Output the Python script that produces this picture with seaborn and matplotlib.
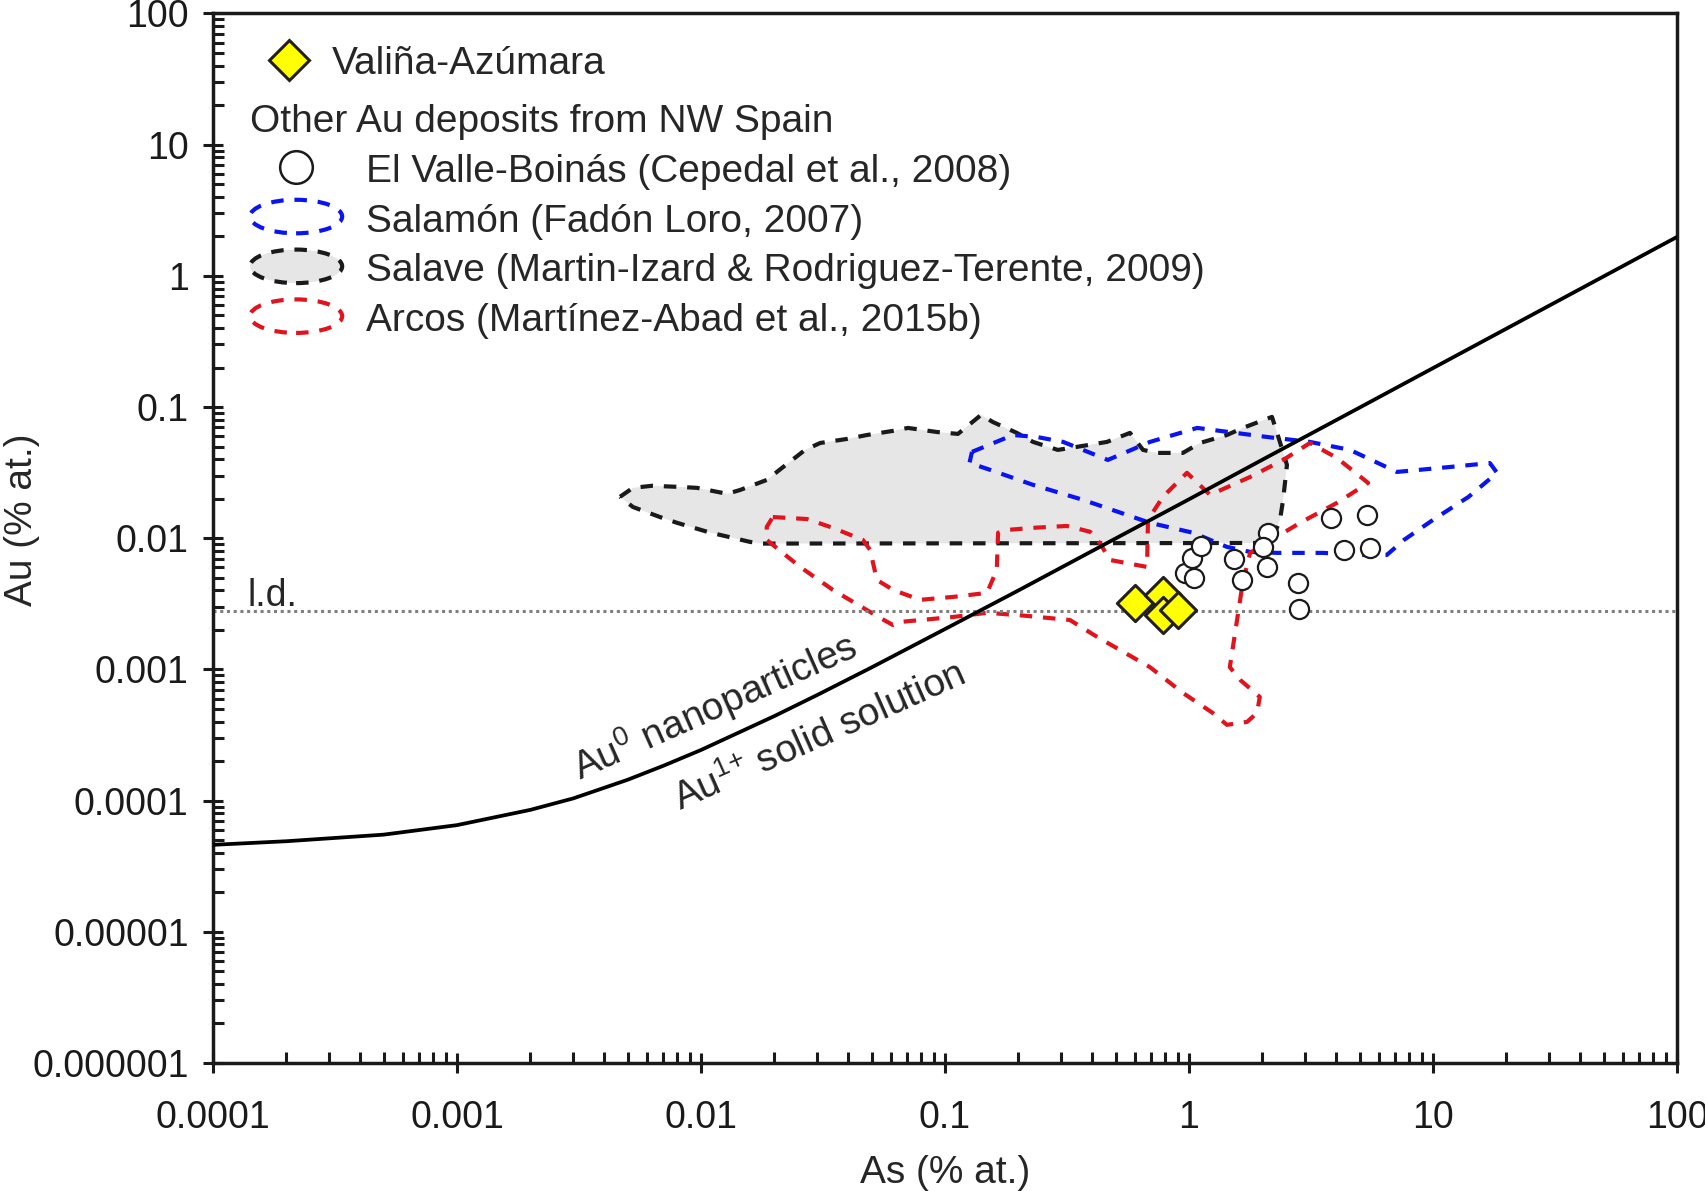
import matplotlib
matplotlib.use("Agg")
import matplotlib.pyplot as plt
import matplotlib.patches as mpatches
from matplotlib.lines import Line2D
from matplotlib.legend_handler import HandlerPatch
from matplotlib.ticker import FixedLocator, LogLocator, NullFormatter
import seaborn as sns

# --- data ---------------------------------------------------------------
# solubility limit of Au in arsenian pyrite
curve_as = [0.0001, 0.0002, 0.0005, 0.001, 0.002, 0.003, 0.005, 0.007, 0.01,
            0.02, 0.03, 0.05, 0.1, 0.2, 0.5, 1, 2, 5, 10, 20, 50, 100]
curve_au = [4.6e-5, 4.9e-5, 5.5e-5, 6.5e-5, 8.5e-5, 1.04e-4, 1.44e-4, 1.84e-4,
            2.43e-4, 4.41e-4, 6.39e-4, 1.035e-3, 2.03e-3, 4.0e-3, 9.95e-3,
            0.0198, 0.0397, 0.099, 0.198, 0.396, 0.99, 1.98]

detection_limit = 0.0028

valina_as = [0.60, 0.78, 0.78, 0.90]
valina_au = [0.00321, 0.00370, 0.00260, 0.00284]

boinas_as = [0.964, 1.03, 1.12, 1.05, 1.53, 1.65, 2.11, 2.01, 2.09, 2.80, 2.82,
             3.82, 4.32, 5.37, 5.52]
boinas_au = [0.00544, 0.00708, 0.00873, 0.00499, 0.00695, 0.00481, 0.0110,
             0.00859, 0.00604, 0.00456, 0.00289, 0.0143, 0.00815, 0.0151, 0.00844]

salave_as = [0.00466, 0.00526, 0.0063, 0.0082, 0.00964, 0.0128, 0.01445, 0.0186,
             0.0215, 0.0267, 0.0308, 0.0396, 0.0479, 0.0612, 0.0705, 0.0927,
             0.113, 0.1406, 0.157, 0.197, 0.2296, 0.290, 0.3475, 0.461, 0.573,
             0.648, 0.740, 0.944, 1.109, 1.43, 1.663, 2.188, 2.296, 2.52, 2.43,
             2.36, 2.25, 2.15, 0.01795, 0.0159, 0.01197, 0.0106, 0.00798,
             0.00679, 0.00526]
salave_au = [0.0207, 0.0242, 0.0251, 0.0246, 0.0242, 0.0218, 0.0233, 0.0278,
             0.0344, 0.0471, 0.0532, 0.0571, 0.0612, 0.0658, 0.0693, 0.0645,
             0.0624, 0.0871, 0.0769, 0.0635, 0.0542, 0.0471, 0.0497, 0.0542,
             0.0635, 0.0471, 0.0447, 0.0447, 0.0532, 0.0612, 0.0693, 0.0841,
             0.0635, 0.0362, 0.0196, 0.0138, 0.0110, 0.0092, 0.0091, 0.00937,
             0.0106, 0.0112, 0.0131, 0.0145, 0.0173]

salamon_as = [0.129, 0.190, 0.238, 0.305, 0.465, 0.692, 1.08, 2.09, 3.13, 4.57,
              7.11, 11.7, 17.1, 18.3, 14.0, 10.0, 7.6, 6.47, 5.17, 3.54, 2.30,
              1.78, 1.43, 1.04, 0.692, 0.368, 0.2296, 0.153, 0.126]
salamon_au = [0.0455, 0.0612, 0.0591, 0.0542, 0.0395, 0.0542, 0.0693, 0.0591,
              0.0542, 0.0471, 0.0320, 0.0349, 0.0374, 0.0315, 0.0207, 0.0138,
              0.0097, 0.00746, 0.00746, 0.00773, 0.00773, 0.00787, 0.00859,
              0.0110, 0.0131, 0.0196, 0.0255, 0.0332, 0.0375]

arcos_as = [0.0197, 0.0272, 0.0347, 0.0461, 0.0493, 0.0526, 0.0612, 0.079, 0.108,
            0.1486, 0.163, 0.165, 0.1795, 0.2296, 0.316, 0.393, 0.431, 0.474,
            0.673, 0.679, 0.782, 0.981, 1.22, 1.78, 2.43, 3.13, 4.04, 5.42, 4.04,
            2.85, 1.78, 1.66, 1.47, 1.62, 1.95, 1.90, 1.73, 1.43, 1.25, 0.944,
            0.692, 0.420, 0.325, 0.197, 0.1486, 0.108, 0.0655, 0.0612, 0.0542,
            0.0347, 0.0255, 0.0186, 0.0186]
arcos_au = [0.0145, 0.0140, 0.0120, 0.0097, 0.00815, 0.00481, 0.00404, 0.00339,
            0.00357, 0.00383, 0.00573, 0.0110, 0.01156, 0.0120, 0.0124, 0.0112,
            0.0092, 0.00683, 0.00604, 0.0138, 0.0207, 0.0315, 0.0214, 0.0293,
            0.0395, 0.0532, 0.0409, 0.0264, 0.0186, 0.0131, 0.00773, 0.00456,
            0.00104, 0.000832, 0.000617, 0.000466, 0.000398, 0.000378, 0.000466,
            0.000662, 0.00104, 0.00177, 0.00238, 0.00260, 0.00270, 0.00251,
            0.00230, 0.00218, 0.00247, 0.00404, 0.00604, 0.0097, 0.0122]

x_ticks = [0.0001, 0.001, 0.01, 0.1, 1, 10, 100]
x_labels = ["0.0001", "0.001", "0.01", "0.1", "1", "10", "100"]
y_ticks = [1e-6, 1e-5, 1e-4, 1e-3, 1e-2, 1e-1, 1, 10, 100]
y_labels = ["0.000001", "0.00001", "0.0001", "0.001", "0.01", "0.1", "1", "10", "100"]

legend_labels = ["El Valle-Boinás (Cepedal et al., 2008)",
                 "Salamón (Fadón Loro, 2007)",
                 "Salave (Martin-Izard & Rodriguez-Terente, 2009)",
                 "Arcos (Martínez-Abad et al., 2015b)"]

# --- style ----------------------------------------------------------------
sns.set_theme(style="ticks")
plt.rcParams['font.family'] = ['Liberation Sans', 'DejaVu Sans']
plt.rcParams['mathtext.fontset'] = 'custom'
plt.rcParams['mathtext.rm'] = 'Liberation Sans'
plt.rcParams['mathtext.it'] = 'Liberation Sans'

BLUE = '#0a14f0'
RED = '#e1141e'
BLACK = '#1a1a1a'
GREY_FILL = '#e6e6e6'
DASH = (0, (3, 2.6))
LW = 3.0

fig = plt.figure(figsize=(17.05, 11.91), dpi=100)
ax = fig.add_subplot(111)
fig.subplots_adjust(left=0.1249, right=0.9836, top=0.9887, bottom=0.1075)
ax.set_xscale('log')
ax.set_yscale('log')

# fields of other deposits
ax.fill(salave_as, salave_au, color=GREY_FILL, lw=0, zorder=1)
ax.plot(salave_as + salave_as[:1], salave_au + salave_au[:1], color=BLACK,
        lw=LW, ls=DASH, zorder=2)
ax.plot(salamon_as + salamon_as[:1], salamon_au + salamon_au[:1], color=BLUE,
        lw=LW, ls=DASH, zorder=2)
ax.plot(arcos_as + arcos_as[:1], arcos_au + arcos_au[:1], color=RED,
        lw=LW, ls=DASH, zorder=2)

# detection limit
ax.axhline(detection_limit, color='#7f7f7f', lw=2.2, ls=(0, (1, 1.2)), zorder=2)
ax.text(1.39e-4, 0.00305, 'l.d.', fontsize=27, ha='left', va='baseline')

# solubility limit curve
sns.lineplot(x=curve_as, y=curve_au, color='black', lw=2.7, ax=ax,
             estimator=None, zorder=3)
ax.text(0.0114, 5.18e-4, r'Au$^{0}$ nanoparticles', fontsize=28, rotation=24,
        rotation_mode='anchor', ha='center', va='center')
ax.text(0.0305, 3.06e-4, r'Au$^{1{+}}$ solid solution', fontsize=28, rotation=24,
        rotation_mode='anchor', ha='center', va='center')

# points
sns.scatterplot(x=boinas_as, y=boinas_au, marker='o', s=190, color='white',
                edgecolor=BLACK, linewidth=1.6, ax=ax, zorder=4, legend=False)
sns.scatterplot(x=valina_as, y=valina_au, marker='D', s=340, color='#ffff00',
                edgecolor='#231f20', linewidth=2.2, ax=ax, zorder=5, legend=False)

# axes
ax.set_xlim(1e-4, 100)
ax.set_ylim(1e-6, 100)
ax.xaxis.set_major_locator(FixedLocator(x_ticks))
ax.xaxis.set_ticklabels(x_labels)
ax.yaxis.set_major_locator(FixedLocator(y_ticks))
ax.yaxis.set_ticklabels(y_labels)
ax.xaxis.set_minor_locator(LogLocator(base=10, subs=range(2, 10), numticks=20))
ax.yaxis.set_minor_locator(LogLocator(base=10, subs=range(2, 10), numticks=20))
ax.xaxis.set_minor_formatter(NullFormatter())
ax.yaxis.set_minor_formatter(NullFormatter())
ax.tick_params(which='major', direction='inout', length=15, width=2.2,
               labelsize=27, colors=BLACK, top=False, right=False)
ax.tick_params(axis='x', which='major', pad=19)
ax.tick_params(axis='y', which='major', pad=10)
ax.tick_params(which='minor', direction='in', length=8, width=2.2,
               colors=BLACK, top=False, right=False)
for sp in ax.spines.values():
    sp.set_linewidth(2.5)
    sp.set_color(BLACK)
    sp.set_visible(True)

ax.set_xlabel('As (% at.)', fontsize=28)
ax.set_ylabel('Au (% at.)', fontsize=28)
ax.xaxis.set_label_coords(0.5, -0.088)
ax.yaxis.set_label_coords(-0.118, 0.518)


# legend
class HandlerEllipse(HandlerPatch):
    def create_artists(self, legend, orig_handle, xdescent, ydescent,
                       width, height, fontsize, trans):
        center = 0.5 * width - 0.5 * xdescent, 0.5 * height - 0.5 * ydescent
        p = mpatches.Ellipse(xy=center, width=width, height=height)
        self.update_prop(p, orig_handle, legend)
        p.set_transform(trans)
        return [p]


h_val = Line2D([], [], marker='D', ms=20.4, mfc='#ffff00', mec='#231f20',
               mew=2.2, ls='none')
leg1 = ax.legend([h_val], ['Valiña-Azúmara'], loc='upper left',
                 bbox_to_anchor=(250 / 1705, 1 - 46 / 1191),
                 bbox_transform=fig.transFigure, frameon=False, fontsize=28,
                 handlelength=2.0, handletextpad=0.1, borderpad=0,
                 borderaxespad=0)
ax.add_artist(leg1)

handles = [
    Line2D([], [], marker='o', ms=23.5, mfc='white', mec=BLACK, mew=1.8, ls='none'),
    mpatches.Ellipse((0, 0), 1, 1, facecolor='none', edgecolor=BLUE, lw=LW, ls=DASH),
    mpatches.Ellipse((0, 0), 1, 1, facecolor=GREY_FILL, edgecolor=BLACK, lw=LW, ls=DASH),
    mpatches.Ellipse((0, 0), 1, 1, facecolor='none', edgecolor=RED, lw=LW, ls=DASH),
]
leg2 = ax.legend(handles, legend_labels, title='Other Au deposits from NW Spain',
                 title_fontsize=28, alignment='left', loc='upper left',
                 bbox_to_anchor=(250 / 1705, 1 - 104 / 1191),
                 bbox_transform=fig.transFigure, frameon=False, fontsize=28,
                 handlelength=2.37, handleheight=0.95, handletextpad=0.6,
                 labelspacing=0.3, borderpad=0, borderaxespad=0,
                 handler_map={mpatches.Ellipse: HandlerEllipse()})

fig.savefig('out.png', dpi=100)
